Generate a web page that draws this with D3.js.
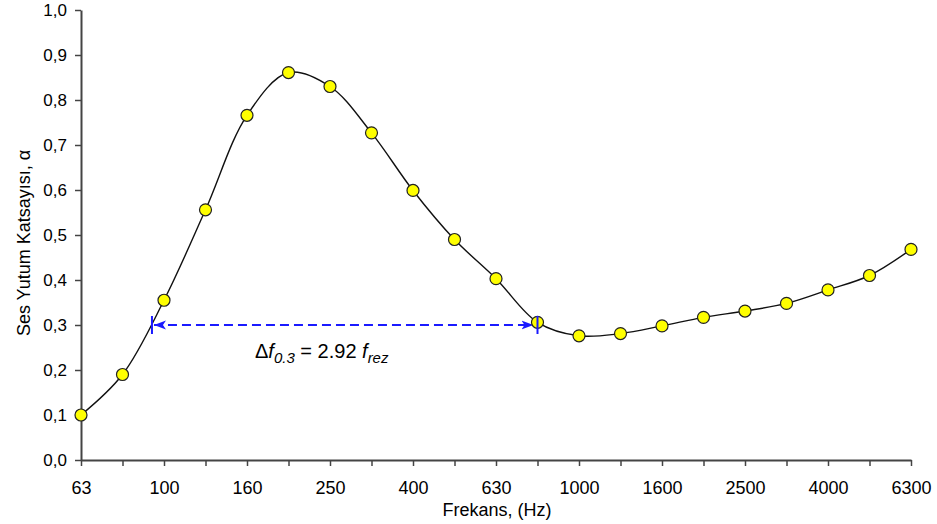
<!DOCTYPE html>
<html>
<head>
<meta charset="utf-8">
<script src="https://cdn.jsdelivr.net/npm/d3@7"></script>
<style>
    body { margin: 0; background: #fff; }
    svg { display: block; font-family: 'Liberation Sans', Arial, sans-serif; }
</style>
</head>
<body>
<div id="chart"></div>
<script>
'use strict';

// 1/3 octave band centre frequencies
var frequencies = ['63', '80', '100', '125', '160', '200', '250', '315', '400', '500', '630',
    '800', '1000', '1250', '1600', '2000', '2500', '3150', '4000', '5000', '6300'];
// sound absorption coefficient, alpha
var alphaValues = [0.10, 0.19, 0.355, 0.556, 0.766, 0.861, 0.83, 0.727, 0.599, 0.49, 0.403,
    0.306, 0.276, 0.281, 0.298, 0.317, 0.331, 0.348, 0.378, 0.41, 0.468];
var yTicks = [0, 0.1, 0.2, 0.3, 0.4, 0.5, 0.6, 0.7, 0.8, 0.9, 1.0];
// band positions (as fractional band index) where alpha crosses 0.3
var deltaRange = [1.71, 11.0];
var deltaLevel = 0.3;

var svgWidth = 937, svgHeight = 524;
var axisColor = '#444';
var blue = '#1a1aff';

var svg = d3.select('#chart')
    .append('svg')
    .attr('width', svgWidth)
    .attr('height', svgHeight);

var x = d3.scaleLinear().domain([0, frequencies.length - 1]).range([81, 911]);
var y = d3.scaleLinear().domain([0, 1]).range([460, 10]);

// arrow heads
svg.append('defs').append('marker')
    .attr('id', 'arrow')
    .attr('viewBox', '0 0 12 10')
    .attr('refX', 12).attr('refY', 5)
    .attr('markerWidth', 12).attr('markerHeight', 10)
    .attr('markerUnits', 'userSpaceOnUse')
    .attr('orient', 'auto-start-reverse')
    .append('path')
    .attr('d', 'M0,0.5 L12,5 L0,9.5 L3,5 Z')
    .attr('fill', blue);

// y axis
var yAxis = svg.append('g')
    .attr('transform', 'translate(' + x(0) + ',0)')
    .call(d3.axisLeft(y)
        .tickValues(yTicks)
        .tickSize(6)
        .tickSizeOuter(0)
        .tickPadding(8)
        .tickFormat(function (d) { return d.toFixed(1).replace('.', ','); }));

// x axis
var xAxis = svg.append('g')
    .attr('transform', 'translate(0,' + y(0) + ')')
    .call(d3.axisBottom(x)
        .tickValues(d3.range(frequencies.length))
        .tickSize(6)
        .tickSizeOuter(0)
        .tickPadding(15)
        .tickFormat(function (d, i) { return i % 2 === 0 ? frequencies[i] : ''; }));

[yAxis, xAxis].forEach(function (a) {
    a.select('.domain').attr('stroke', axisColor).attr('stroke-width', 2);
    a.selectAll('.tick line').attr('stroke', axisColor).attr('stroke-width', 1.5);
    a.selectAll('text').attr('fill', '#000').style('font-family', "'Liberation Sans', Arial, sans-serif");
});
yAxis.selectAll('text').style('font-size', '17px');
xAxis.selectAll('text').style('font-size', '18px');

// axis titles
svg.append('text')
    .attr('transform', 'translate(30,243) rotate(-90)')
    .attr('text-anchor', 'middle')
    .style('font-size', '18px')
    .text('Ses Yutum Katsayısı, α');

svg.append('text')
    .attr('x', 497)
    .attr('y', 516)
    .attr('text-anchor', 'middle')
    .style('font-size', '18px')
    .text('Frekans, (Hz)');

// smoothed curve
var line = d3.line()
    .x(function (d, i) { return x(i); })
    .y(function (d) { return y(d); })
    .curve(d3.curveCatmullRom.alpha(0.5));

svg.append('path')
    .datum(alphaValues)
    .attr('d', line)
    .attr('fill', 'none')
    .attr('stroke', '#111')
    .attr('stroke-width', 1.4);

// bandwidth annotation at alpha = 0.3
svg.append('line')
    .attr('x1', x(deltaRange[0]) + 2)
    .attr('x2', x(deltaRange[1]) - 4)
    .attr('y1', y(deltaLevel))
    .attr('y2', y(deltaLevel))
    .attr('stroke', blue)
    .attr('stroke-width', 2)
    .attr('stroke-dasharray', '9,5')
    .attr('marker-start', 'url(#arrow)')
    .attr('marker-end', 'url(#arrow)');

// markers
svg.selectAll('.point')
    .data(alphaValues)
    .enter().append('circle')
    .attr('class', 'point')
    .attr('cx', function (d, i) { return x(i); })
    .attr('cy', function (d) { return y(d); })
    .attr('r', 6)
    .attr('fill', '#ffff00')
    .attr('stroke', '#222')
    .attr('stroke-width', 1.2);

// end marks drawn over the markers
svg.selectAll('.edge')
    .data(deltaRange)
    .enter().append('line')
    .attr('class', 'edge')
    .attr('x1', function (d) { return x(d); })
    .attr('x2', function (d) { return x(d); })
    .attr('y1', y(deltaLevel) - 9)
    .attr('y2', y(deltaLevel) + 9)
    .attr('stroke', blue)
    .attr('stroke-width', 2);

var label = svg.append('text')
    .attr('x', 255)
    .attr('y', 358)
    .style('font-size', '20px');
label.append('tspan').text('Δ');
label.append('tspan').style('font-style', 'italic').text('f');
label.append('tspan').style('font-style', 'italic').style('font-size', '15px').attr('dy', 5).text('0.3');
label.append('tspan').attr('dy', -5).text(' = 2.92 ');
label.append('tspan').style('font-style', 'italic').text('f');
label.append('tspan').style('font-style', 'italic').style('font-size', '15px').attr('dy', 5).text('rez');
</script>
</body>
</html>
